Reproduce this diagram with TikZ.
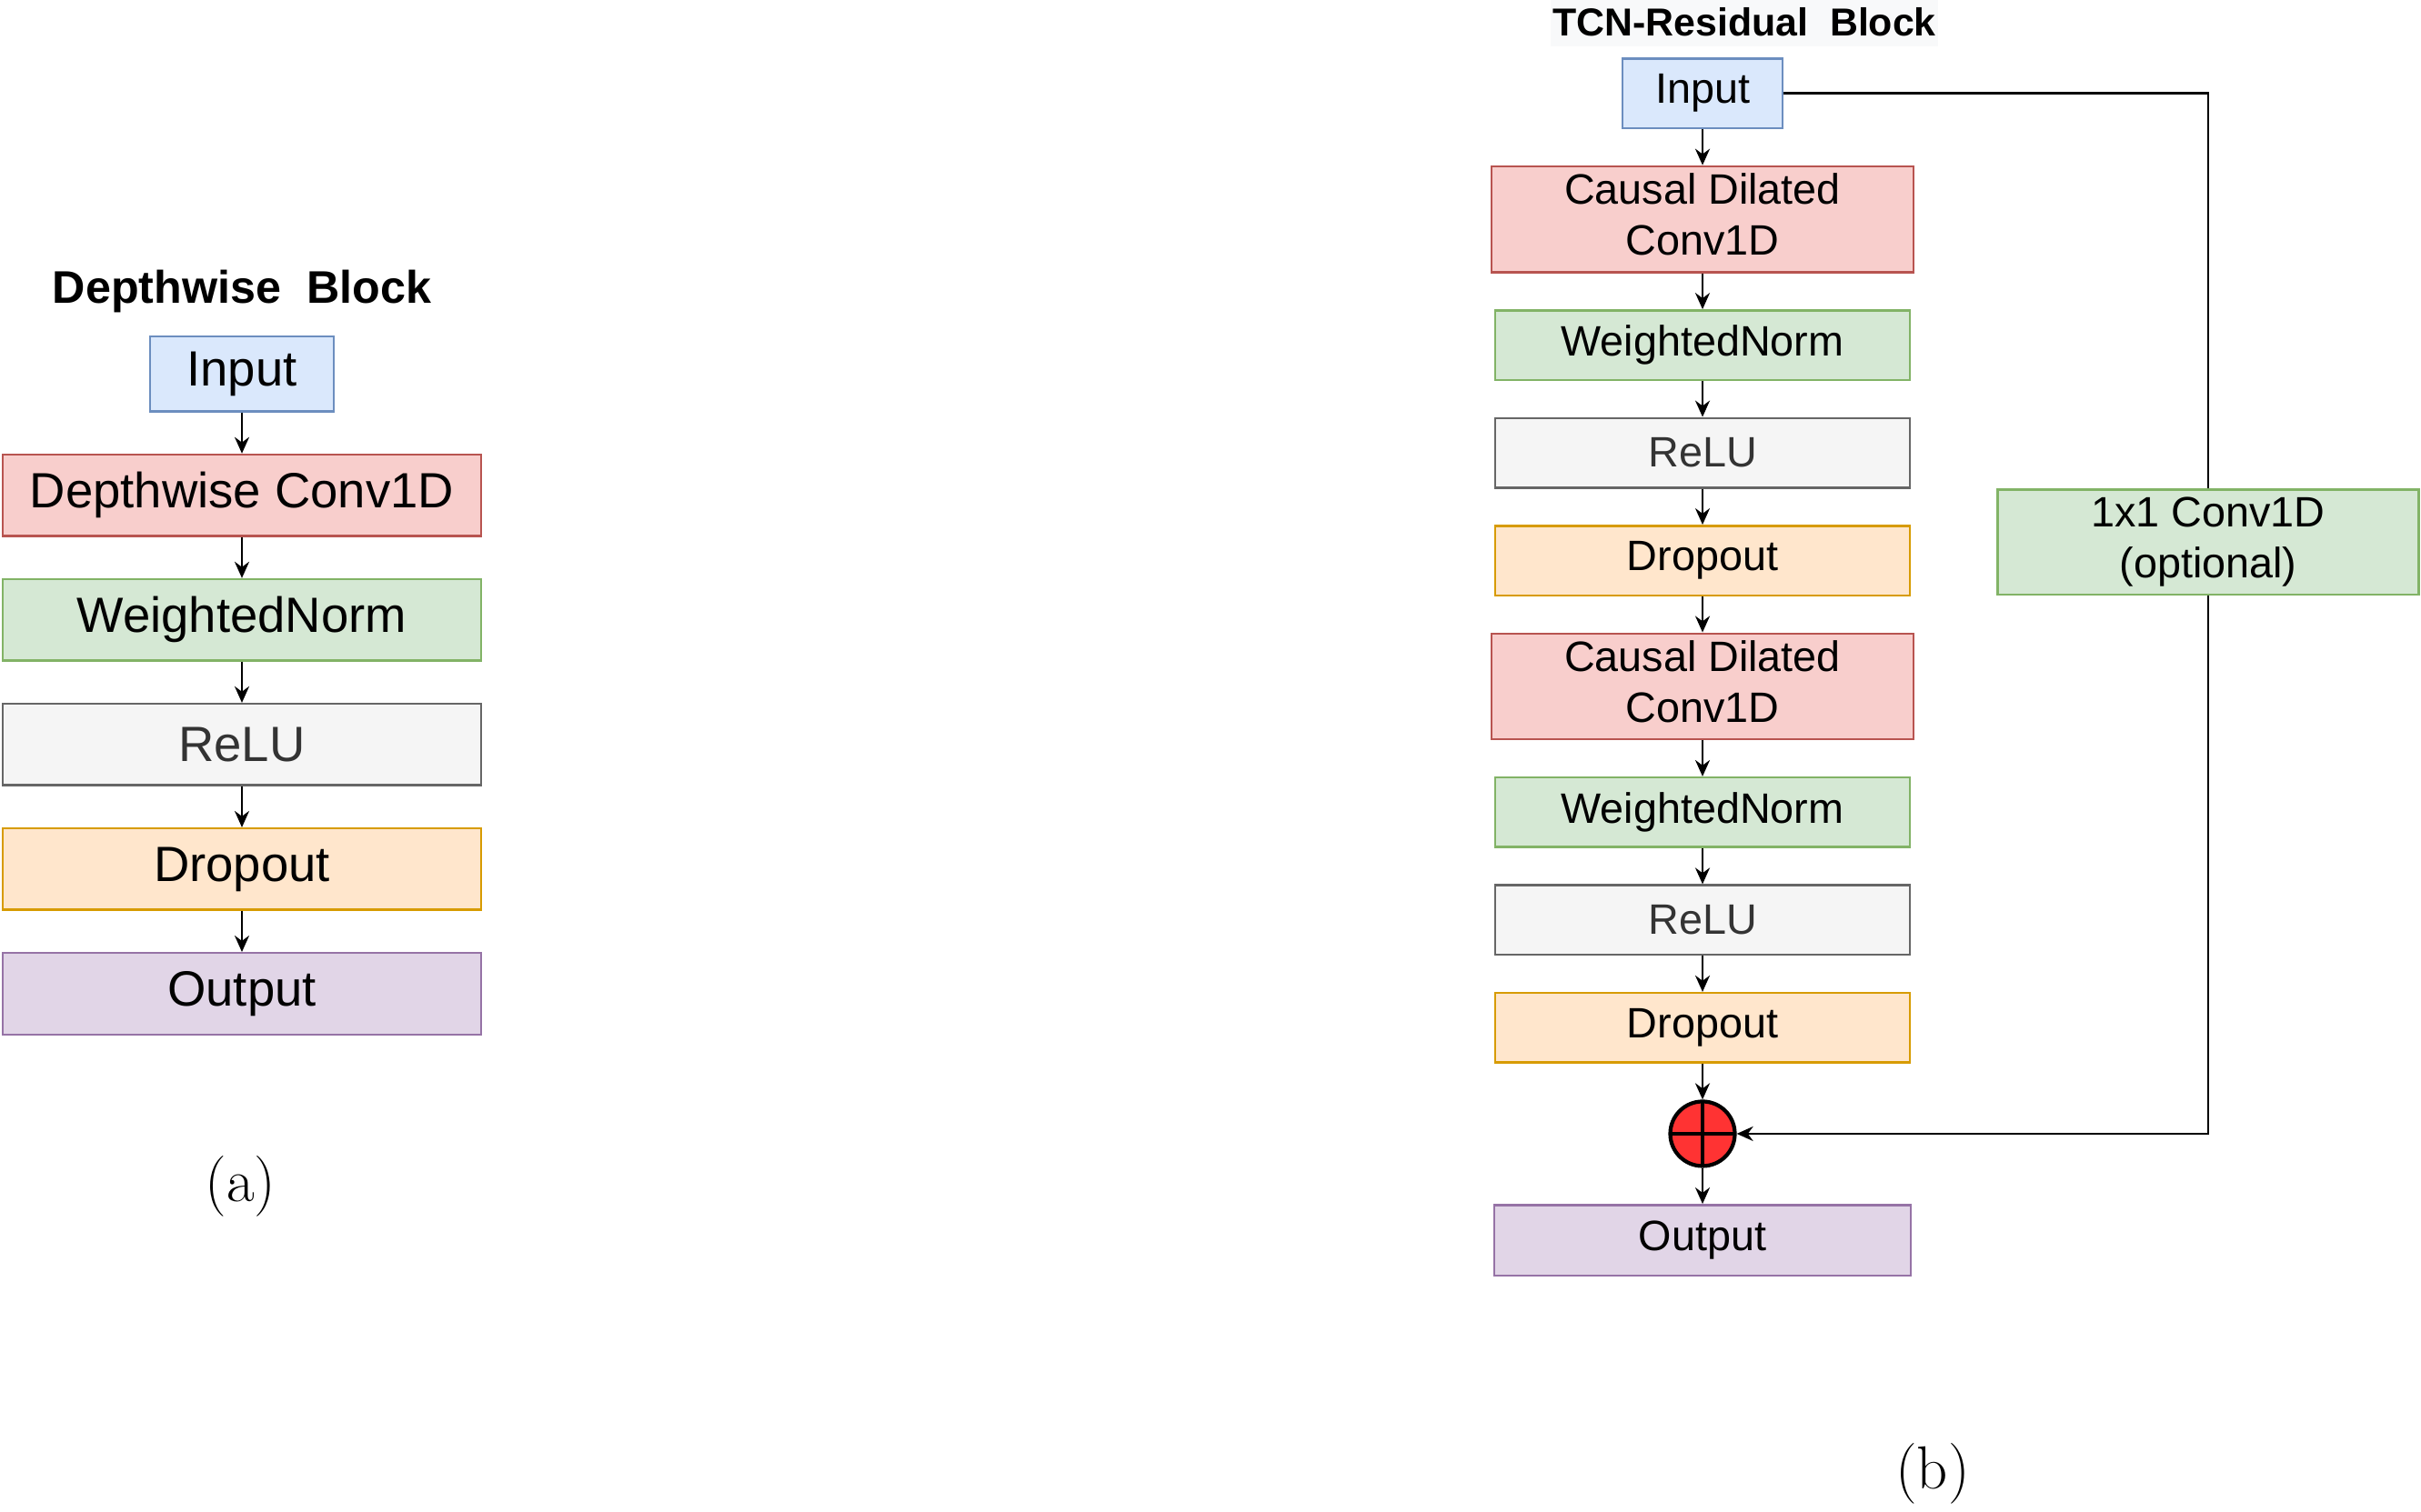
\documentclass[tikz,border=0pt]{standalone}
\usepackage{fontspec}
\usepackage{tikz}
\usetikzlibrary{arrows.meta}
\usetikzlibrary{matrix}
\newfontfamily\arial{Liberation Sans}
\definecolor{bluefill}{HTML}{DAE8FC}\definecolor{blueline}{HTML}{6C8EBF}
\definecolor{redfill}{HTML}{F8CECC}\definecolor{redline}{HTML}{B85450}
\definecolor{greenfill}{HTML}{D5E8D4}\definecolor{greenline}{HTML}{82B366}
\definecolor{grayfill}{HTML}{F5F5F5}\definecolor{grayline}{HTML}{666666}
\definecolor{graytext}{HTML}{333333}
\definecolor{orangefill}{HTML}{FFE6CC}\definecolor{orangeline}{HTML}{D79B00}
\definecolor{purplefill}{HTML}{E1D5E7}\definecolor{purpleline}{HTML}{9673A6}
\definecolor{sumred}{HTML}{FF3333}
\definecolor{titlebg}{HTML}{F8F9FA}
\newcommand\bigtxt{\arial\fontsize{15.5}{18}\selectfont}
\newcommand\smalltxt{\arial\fontsize{13.3}{15.9}\selectfont}
\newcommand\cdconv{\begin{tabular}{@{}c@{}}Causal Dilated\\Conv1D\end{tabular}}
\tikzstyle{blk}=[draw,line width=.7pt,inner sep=2pt]
\tikzstyle{inbox}=[blk,draw=blueline,fill=bluefill]
\tikzstyle{convbox}=[blk,draw=redline,fill=redfill]
\tikzstyle{normbox}=[blk,draw=greenline,fill=greenfill]
\tikzstyle{relubox}=[blk,draw=grayline,fill=grayfill,text=graytext]
\tikzstyle{dropbox}=[blk,draw=orangeline,fill=orangefill]
\tikzstyle{outbox}=[blk,draw=purpleline,fill=purplefill]
\tikzstyle{sumnode}=[circle,draw,line width=1.2pt,fill=sumred,minimum size=.71cm,inner sep=0pt,
  path picture={\draw[line width=1pt] (path picture bounding box.north) -- (path picture bounding box.south)
  (path picture bounding box.west) -- (path picture bounding box.east);}]
\tikzstyle{arr}=[line width=.7pt,-{Stealth[length=1.8mm,width=1.6mm]}]
\begin{document}
\begin{tikzpicture}
	\useasboundingbox (0,0) rectangle (26.62,-16.62);
	\matrix (ma) [matrix of nodes,row sep=.451cm,inner sep=0pt,matrix anchor=north,
	  nodes={font=\bigtxt,minimum width=5.255cm,minimum height=.895cm}] at (2.66,-3.68) {
	  |[inbox,minimum width=2.025cm,minimum height=.825cm]| Input \\
	  |[convbox]| Depthwise Conv1D \\
	  |[normbox]| WeightedNorm \\
	  |[relubox]| ReLU \\
	  |[dropbox]| Dropout \\
	  |[outbox]| Output \\
	};
	\matrix (mb) [matrix of nodes,row sep=.395cm,inner sep=0pt,matrix anchor=north,
	  nodes={font=\smalltxt,minimum width=4.56cm,minimum height=.765cm}] at (18.72,-.625) {
	  |[inbox,minimum width=1.76cm]| Input \\
	  |[convbox,inner ysep=0pt,minimum width=4.64cm,minimum height=1.165cm]| \cdconv \\
	  |[normbox]| WeightedNorm \\
	  |[relubox]| ReLU \\
	  |[dropbox]| Dropout \\
	  |[convbox,inner ysep=0pt,minimum width=4.64cm,minimum height=1.165cm]| \cdconv \\
	  |[normbox]| WeightedNorm \\
	  |[relubox]| ReLU \\
	  |[dropbox]| Dropout \\
	  |[sumnode]| \mbox{} \\
	  |[outbox,minimum width=4.58cm,minimum height=.775cm]| Output \\
	};
	\node[normbox,align=center,font=\smalltxt,minimum width=4.63cm,minimum height=1.155cm] (skip) at (24.28,-5.963) {1x1 Conv1D\\(optional)};
	\node[font=\arial\bfseries\fontsize{14.3}{17}\selectfont] (titlea) at (2.66,-3.2) {Depthwise\ \ Block};
	\node[fill=titlebg,inner xsep=.5pt,minimum height=.48cm,font=\arial\bfseries\fontsize{12.2}{14}\selectfont] (titleb) at (19.18,-.24) {TCN-Residual\ \ Block};
	\node[font=\fontsize{19}{22}\selectfont] (capa) at (2.645,-13.05) {(a)};
	\node[font=\fontsize{19}{22}\selectfont] (capb) at (21.25,-16.21) {(b)};
	\draw[arr] (ma-1-1) edge (ma-2-1) (ma-2-1) edge (ma-3-1) (ma-3-1) edge (ma-4-1)
	  (ma-4-1) edge (ma-5-1) (ma-5-1) edge (ma-6-1);
	\draw[arr] (mb-1-1) edge (mb-2-1) (mb-2-1) edge (mb-3-1) (mb-3-1) edge (mb-4-1)
	  (mb-4-1) edge (mb-5-1) (mb-5-1) edge (mb-6-1) (mb-6-1) edge (mb-7-1)
	  (mb-7-1) edge (mb-8-1) (mb-8-1) edge (mb-9-1) (mb-9-1) edge (mb-10-1) (mb-10-1) edge (mb-11-1);
	\draw[line width=.7pt] (mb-1-1.east) -| (skip.north);
	\draw[arr] (skip.south) |- (mb-10-1.east);
\end{tikzpicture}
\end{document}
